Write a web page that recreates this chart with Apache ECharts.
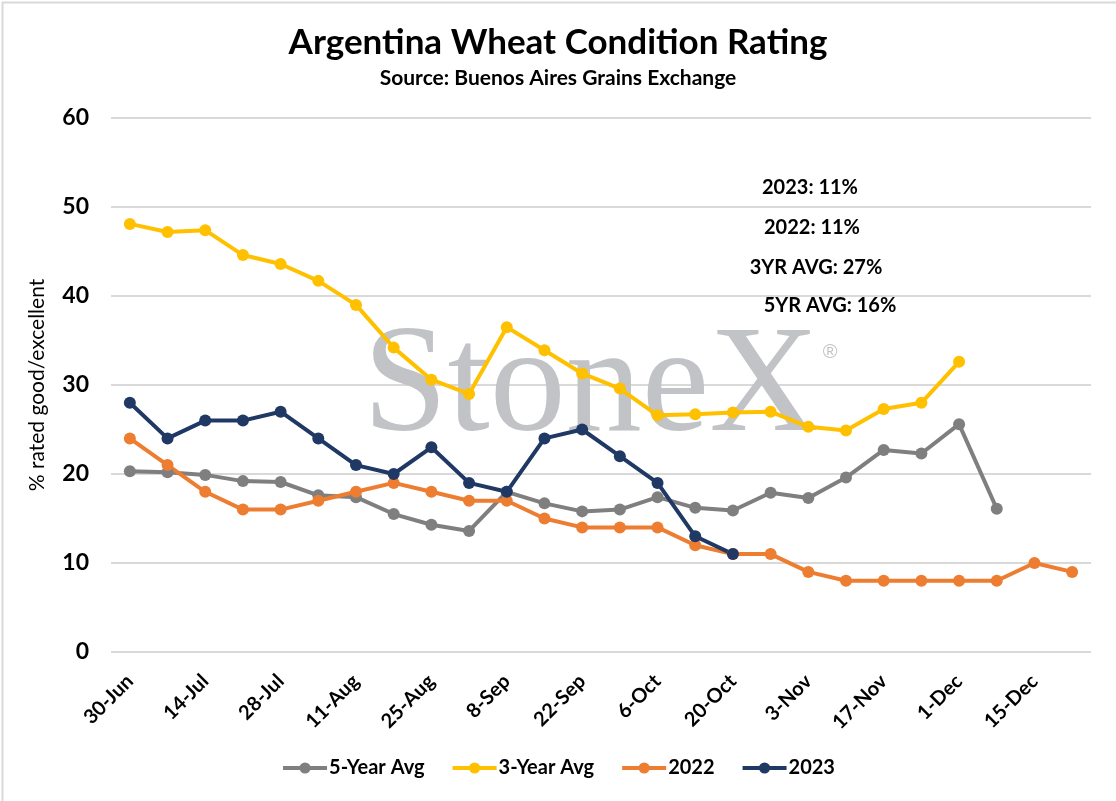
<!DOCTYPE html>
<html>
<head>
<meta charset="utf-8">
<script src="https://cdn.jsdelivr.net/npm/echarts@6/dist/echarts.min.js"></script>
<style>
html,body{margin:0;padding:0;background:#fff;}
#chart{width:1116px;height:801px;}
</style>
</head>
<body>
<div id="chart"></div>
<script>
const categories = ['30-Jun','7-Jul','14-Jul','21-Jul','28-Jul','4-Aug','11-Aug','18-Aug','25-Aug','1-Sep','8-Sep','15-Sep','22-Sep','29-Sep','6-Oct','13-Oct','20-Oct','27-Oct','3-Nov','10-Nov','17-Nov','24-Nov','1-Dec','8-Dec','15-Dec','22-Dec'];
const fiveYearAvg = [20.3,20.2,19.9,19.2,19.1,17.6,17.4,15.5,14.3,13.6,18.0,16.7,15.8,16.0,17.4,16.2,15.9,17.9,17.3,19.6,22.7,22.3,25.6,16.1,null,null];
const threeYearAvg = [48.1,47.2,47.4,44.6,43.6,41.7,39.0,34.2,30.6,29.0,36.5,33.9,31.3,29.6,26.6,26.7,26.9,27.0,25.3,24.9,27.3,28.0,32.6,null,null,null];
const y2022 = [24,21,18,16,16,17,18,19,18,17,17,15,14,14,14,12,11,11,9,8,8,8,8,8,10,9];
const y2023 = [28,24,26,26,27,24,21,20,23,19,18,24,25,22,19,13,11,null,null,null,null,null,null,null,null,null];
const annotations = ['2023: 11%','2022: 11%','3YR AVG: 27%','5YR AVG: 16%'];
const yTicks = [0,10,20,30,40,50,60];

const font = 'Lato, "Open Sans", sans-serif';
const chart = echarts.init(document.getElementById('chart'));

function mkSeries(name, data, color){
  return {
    name, type:'line', data, connectNulls:false,
    symbol:'circle', symbolSize:12,
    lineStyle:{width:4,color}, itemStyle:{color},
    z:3
  };
}

chart.setOption({
  backgroundColor:'#fff',
  animation:false,
  title:{
    text:'Argentina Wheat Condition Rating',
    subtext:'Source: Buenos Aires Grains Exchange',
    left:'center', top:20, itemGap:8,
    textStyle:{fontFamily:font,fontWeight:'bold',fontSize:35,color:'#000'},
    subtextStyle:{fontFamily:font,fontWeight:'bold',fontSize:21,color:'#000'}
  },
  grid:{left:111,right:25,top:118,bottom:149,containLabel:false},
  legend:{
    bottom:18,left:'center',itemWidth:44,itemHeight:14,itemGap:26,
    lineStyle:{width:4},
    textStyle:{fontFamily:font,fontWeight:'bold',fontSize:20,color:'#000',padding:[0,0,0,-3]},
    data:['5-Year Avg','3-Year Avg','2022','2023']
  },
  xAxis:{
    type:'category', data:categories, boundaryGap:true,
    axisLine:{show:false}, axisTick:{show:false},
    axisLabel:{interval:1,rotate:45,fontFamily:font,fontWeight:'bold',fontSize:20,color:'#000',margin:26}
  },
  yAxis:{
    type:'value', min:yTicks[0], max:yTicks[yTicks.length-1], interval:10,
    name:'% rated good/excellent', nameLocation:'middle', nameGap:63,
    nameTextStyle:{fontFamily:font,fontSize:21,color:'#000'},
    axisLine:{show:false}, axisTick:{show:false},
    axisLabel:{fontFamily:font,fontWeight:'bold',fontSize:23,color:'#000',margin:22},
    splitLine:{lineStyle:{color:'#d9d9d9',width:2}}
  },
  graphic:[
    {type:'rect',left:0,top:0,shape:{x:0,y:0,width:1115,height:800},style:{fill:'none',stroke:'#d9d9d9',lineWidth:2},silent:true,z:0},
    {type:'text',x:591,y:390,z:1,silent:true,style:{text:'StoneX',font:'152px "Liberation Serif", serif',fill:'#c1c3c6',align:'center',verticalAlign:'middle'}},
    {type:'text',x:830,y:352,z:1,silent:true,style:{text:'®',font:'20px "Liberation Sans", sans-serif',fill:'#c1c3c6',align:'center',verticalAlign:'middle'}},
    {type:'text',x:810,y:188,z:5,style:{text:annotations[0],font:'bold 20px '+font,fill:'#000',align:'center',verticalAlign:'middle'}},
    {type:'text',x:812,y:228,z:5,style:{text:annotations[1],font:'bold 20px '+font,fill:'#000',align:'center',verticalAlign:'middle'}},
    {type:'text',x:816,y:268,z:5,style:{text:annotations[2],font:'bold 20px '+font,fill:'#000',align:'center',verticalAlign:'middle'}},
    {type:'text',x:830,y:306,z:5,style:{text:annotations[3],font:'bold 20px '+font,fill:'#000',align:'center',verticalAlign:'middle'}}
  ],
  series:[
    mkSeries('5-Year Avg',fiveYearAvg,'#7f7f7f'),
    mkSeries('3-Year Avg',threeYearAvg,'#ffc000'),
    mkSeries('2022',y2022,'#ed7d31'),
    mkSeries('2023',y2023,'#1f3864')
  ]
});
</script>
</body>
</html>
